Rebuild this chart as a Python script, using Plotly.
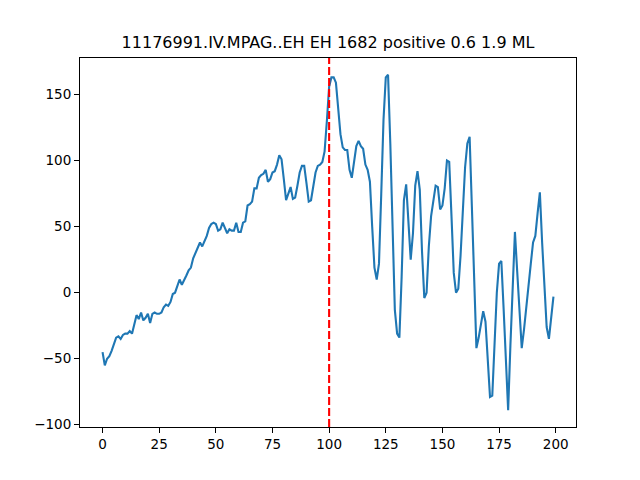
import plotly.graph_objects as go

title_text = "11176991.IV.MPAG..EH EH 1682 positive 0.6 1.9 ML"

amplitude = [
    -45, -55, -50, -48, -44, -38, -34, -33, -35, -32,
    -31, -31, -29, -31, -23, -17, -20, -15, -21, -19,
    -16, -23, -16, -15, -16, -16, -15, -11, -9, -10,
    -7, -1, 0, 6, 10, 6, 9, 13, 17, 19,
    26, 30, 34, 38, 35, 39, 43, 49, 52, 53,
    52, 47, 48, 53, 49, 45, 48, 47, 47, 53,
    46, 46, 53, 54, 66, 67, 69, 79, 79, 87,
    89, 90, 93, 84, 86, 91, 92, 97, 104, 101,
    86, 70, 75, 80, 71, 72, 81, 91, 96, 96,
    83, 69, 70, 80, 91, 96, 97, 99, 107, 130,
    156, 163, 163, 159, 139, 120, 110, 108, 108, 93,
    87, 101, 111, 115, 111, 109, 97, 93, 84, 50,
    19, 10, 22, 75, 131, 163, 165, 113, 50, -13,
    -31, -34, 12, 70, 82, 53, 25, 45, 81, 92,
    78, 31, -4, 0, 35, 58, 70, 81, 80, 63,
    66, 79, 100, 99, 58, 15, 0, 3, 28, 65,
    95, 113, 118, 65, 12, -42, -34, -25, -14, -22,
    -50, -79, -78, -40, 0, 22, 24, -12, -55, -89,
    -40, 3, 46, 16, -15, -42, -28, -10, 5, 22,
    38, 43, 60, 76, 38, 4, -26, -35, -20, -3,
]
samples = list(range(len(amplitude)))
onset = 100

# matplotlib-like 5% margins
def padded(lo, hi, frac=0.05):
    span = hi - lo
    return [lo - frac * span, hi + frac * span]

x_range = padded(min(samples), max(samples))
y_range = padded(min(amplitude), max(amplitude))

fig = go.Figure()
fig.add_trace(go.Scatter(x=samples, y=amplitude, mode="lines",
                         line=dict(color="#1f77b4", width=2.1),
                         showlegend=False, hoverinfo="skip"))

fig.add_shape(type="line", xref="x", yref="paper", x0=onset, x1=onset, y0=0, y1=1,
              line=dict(color="#ff0000", width=2.1, dash="8px,3px"))

axis_style = dict(showgrid=False, zeroline=False, showline=True, mirror=True,
                  linecolor="black", linewidth=1.1, ticks="outside", ticklen=5,
                  tickwidth=1.1, tickcolor="black", automargin=False,
                  tickfont=dict(family="DejaVu Sans", size=13.5, color="black"))

fig.update_xaxes(range=x_range, tickvals=[0, 25, 50, 75, 100, 125, 150, 175, 200], **axis_style)
fig.update_yaxes(range=y_range, tickvals=[-100, -50, 0, 50, 100, 150], **axis_style)

fig.update_layout(
    width=640, height=480,
    margin=dict(l=80, r=64, t=58, b=53),
    paper_bgcolor="white", plot_bgcolor="white",
    title=dict(text=title_text, x=0.5, xref="paper", xanchor="center",
               y=1 - 42 / 480, yref="container", yanchor="middle",
               font=dict(family="DejaVu Sans", size=16, color="black")),
)

fig.write_html("out.html", config={"displayModeBar": False},
               post_script="document.body.style.margin='0';")
